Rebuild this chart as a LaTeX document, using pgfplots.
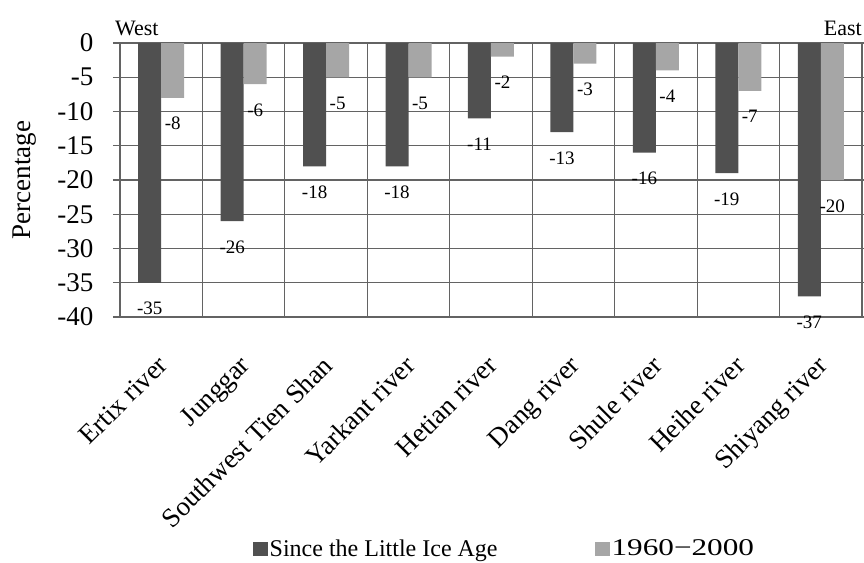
\documentclass[border=0pt]{standalone}
\usepackage{pgfplots}
\pgfplotsset{compat=1.18}
\usepackage{fontspec}
\setmainfont{Liberation Serif}

\definecolor{darkbar}{HTML}{505050}
\definecolor{lightbar}{HTML}{A6A6A6}
\definecolor{gridc}{HTML}{636363}

\begin{document}
\begin{tikzpicture}
\begin{axis}[
  at={(0,0)}, anchor=south west,
  scale only axis, width=742pt, height=274pt,
  ybar=0pt, bar width=23pt,
  xmin=-0.5, xmax=8.5, ymin=-40, ymax=0,
  ytick={-40,-35,...,0},
  xtick={0,...,8},
  xticklabels={Ertix river, Junggar, Southwest Tien Shan, Yarkant river, Hetian river, Dang river, Shule river, Heihe river, Shiyang river},
  minor xtick={0.5,1.5,...,7.5},
  ymajorgrids, xminorgrids,
  grid style={gridc, line width=1.1pt},
  axis line style={gridc, line width=1.1pt},
  x tick style={draw=none}, minor x tick style={draw=none},
  y tick style={gridc, line width=1.1pt},
  tick align=outside, major tick length=7pt,
  /pgf/number format/assume math mode=true,
  yticklabel style={font=\fontsize{27}{27}\selectfont, xshift=-16pt},
  xticklabel style={font=\fontsize{27}{27}\selectfont, xshift=-5pt, yshift=-30pt, rotate=45, anchor=north east, inner sep=0pt},
  ylabel={Percentage}, ylabel style={font=\fontsize{27}{27}\selectfont, yshift=14pt},
  nodes near coords,
  every node near coord/.append style={font=\fontsize{19}{19}\selectfont, black, yshift=-16pt},
  clip=false,
  legend columns=2,
  legend style={draw=none, at={(0.518,-0.845)}, anchor=center,
    font=\fontsize{24}{24}\selectfont,
    /tikz/every even column/.append style={column sep=95pt}},
  legend image code/.code={\fill[#1, draw=none] (0pt,-7pt) rectangle (15pt,7pt);},
]
\addplot[fill=darkbar, draw=none] coordinates {
  (0,-35) (1,-26) (2,-18) (3,-18) (4,-11) (5,-13) (6,-16) (7,-19) (8,-37)
};
\addlegendentry{Since the Little Ice Age}
\addplot[fill=lightbar, draw=none] coordinates {
  (0,-8) (1,-6) (2,-5) (3,-5) (4,-2) (5,-3) (6,-4) (7,-7) (8,-20)
};
\addlegendentry{\scalebox{1.3}[1]{1960−2000}}
\node[anchor=south west, font=\fontsize{22}{22}\selectfont, inner sep=0pt] at (rel axis cs:-0.007,1.025) {West};
\node[anchor=south east, font=\fontsize{22}{22}\selectfont, inner sep=0pt] at (rel axis cs:1,1.025) {East};
\end{axis}
\pgfresetboundingbox
\useasboundingbox (-120pt,-245pt) rectangle (744pt,317pt);
\end{tikzpicture}
\end{document}
